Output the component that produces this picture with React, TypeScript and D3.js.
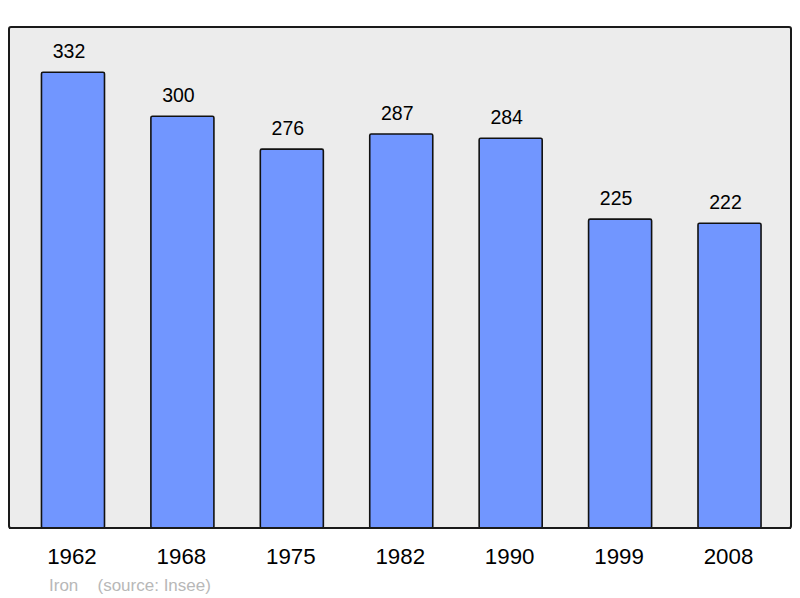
import React, { useRef, useEffect } from 'react';
import * as d3 from 'd3';

const years = ['1962', '1968', '1975', '1982', '1990', '1999', '2008'];
const population = [332, 300, 276, 287, 284, 225, 222];
const commune = 'Iron';
const source = '(source: Insee)';

const W = 800;
const H = 598;

const App = () => {
  const svgRef = useRef<SVGSVGElement>(null);

  useEffect(() => {
    const svg = d3.select(svgRef.current);
    svg.selectAll('*').remove();

    const frame = { left: 9, top: 27, right: 791, bottom: 528 };

    const x = d3.scaleBand<string>()
      .domain(years)
      .range([10.5, 792])
      .paddingInner(0.424)
      .paddingOuter(0.283);

    const y = d3.scaleLinear()
      .domain([0, 365])
      .range([frame.bottom, frame.top]);

    // plot frame
    svg.append('rect')
      .attr('x', frame.left)
      .attr('y', frame.top)
      .attr('width', frame.right - frame.left)
      .attr('height', frame.bottom - frame.top)
      .attr('rx', 2)
      .attr('fill', '#ececec')
      .attr('stroke', '#1a1a1a')
      .attr('stroke-width', 2);

    // bars
    svg.selectAll('.bar')
      .data(population)
      .enter()
      .append('rect')
      .attr('class', 'bar')
      .attr('x', (d, i) => x(years[i])!)
      .attr('y', d => y(d))
      .attr('width', x.bandwidth())
      .attr('height', d => frame.bottom - y(d))
      .attr('rx', 1.5)
      .attr('fill', '#7196ff')
      .attr('stroke', '#111')
      .attr('stroke-width', 1.6);

    // redraw bottom edge of frame over the bars
    svg.append('line')
      .attr('x1', frame.left)
      .attr('x2', frame.right)
      .attr('y1', frame.bottom)
      .attr('y2', frame.bottom)
      .attr('stroke', '#1a1a1a')
      .attr('stroke-width', 2);

    // value labels
    svg.selectAll('.val')
      .data(population)
      .enter()
      .append('text')
      .attr('class', 'val')
      .attr('x', (d, i) => x(years[i])! + x.bandwidth() / 2 - 4)
      .attr('y', d => y(d) - 14)
      .attr('text-anchor', 'middle')
      .style('font-family', 'Liberation Sans, Arial, sans-serif')
      .style('font-size', '19.5px')
      .attr('fill', '#000')
      .text(d => d);

    // year labels
    svg.selectAll('.year')
      .data(years)
      .enter()
      .append('text')
      .attr('class', 'year')
      .attr('x', d => x(d)! + x.bandwidth() / 2 - 1)
      .attr('y', 563.5)
      .attr('text-anchor', 'middle')
      .style('font-family', 'Liberation Sans, Arial, sans-serif')
      .style('font-size', '22.3px')
      .attr('fill', '#000')
      .text(d => d);

    // footer
    svg.append('text')
      .attr('x', 49)
      .attr('y', 590.5)
      .style('font-family', 'Liberation Sans, Arial, sans-serif')
      .style('font-size', '17px')
      .attr('fill', '#b8b8b8')
      .text(commune);

    svg.append('text')
      .attr('x', 97.5)
      .attr('y', 590.5)
      .style('font-family', 'Liberation Sans, Arial, sans-serif')
      .style('font-size', '17px')
      .attr('fill', '#b8b8b8')
      .text(source);
  }, []);

  return (
    <svg
      ref={svgRef}
      width={W}
      height={H}
      style={{ position: 'absolute', left: 0, top: 0, background: '#fff' }}
    />
  );
};

export default App;
